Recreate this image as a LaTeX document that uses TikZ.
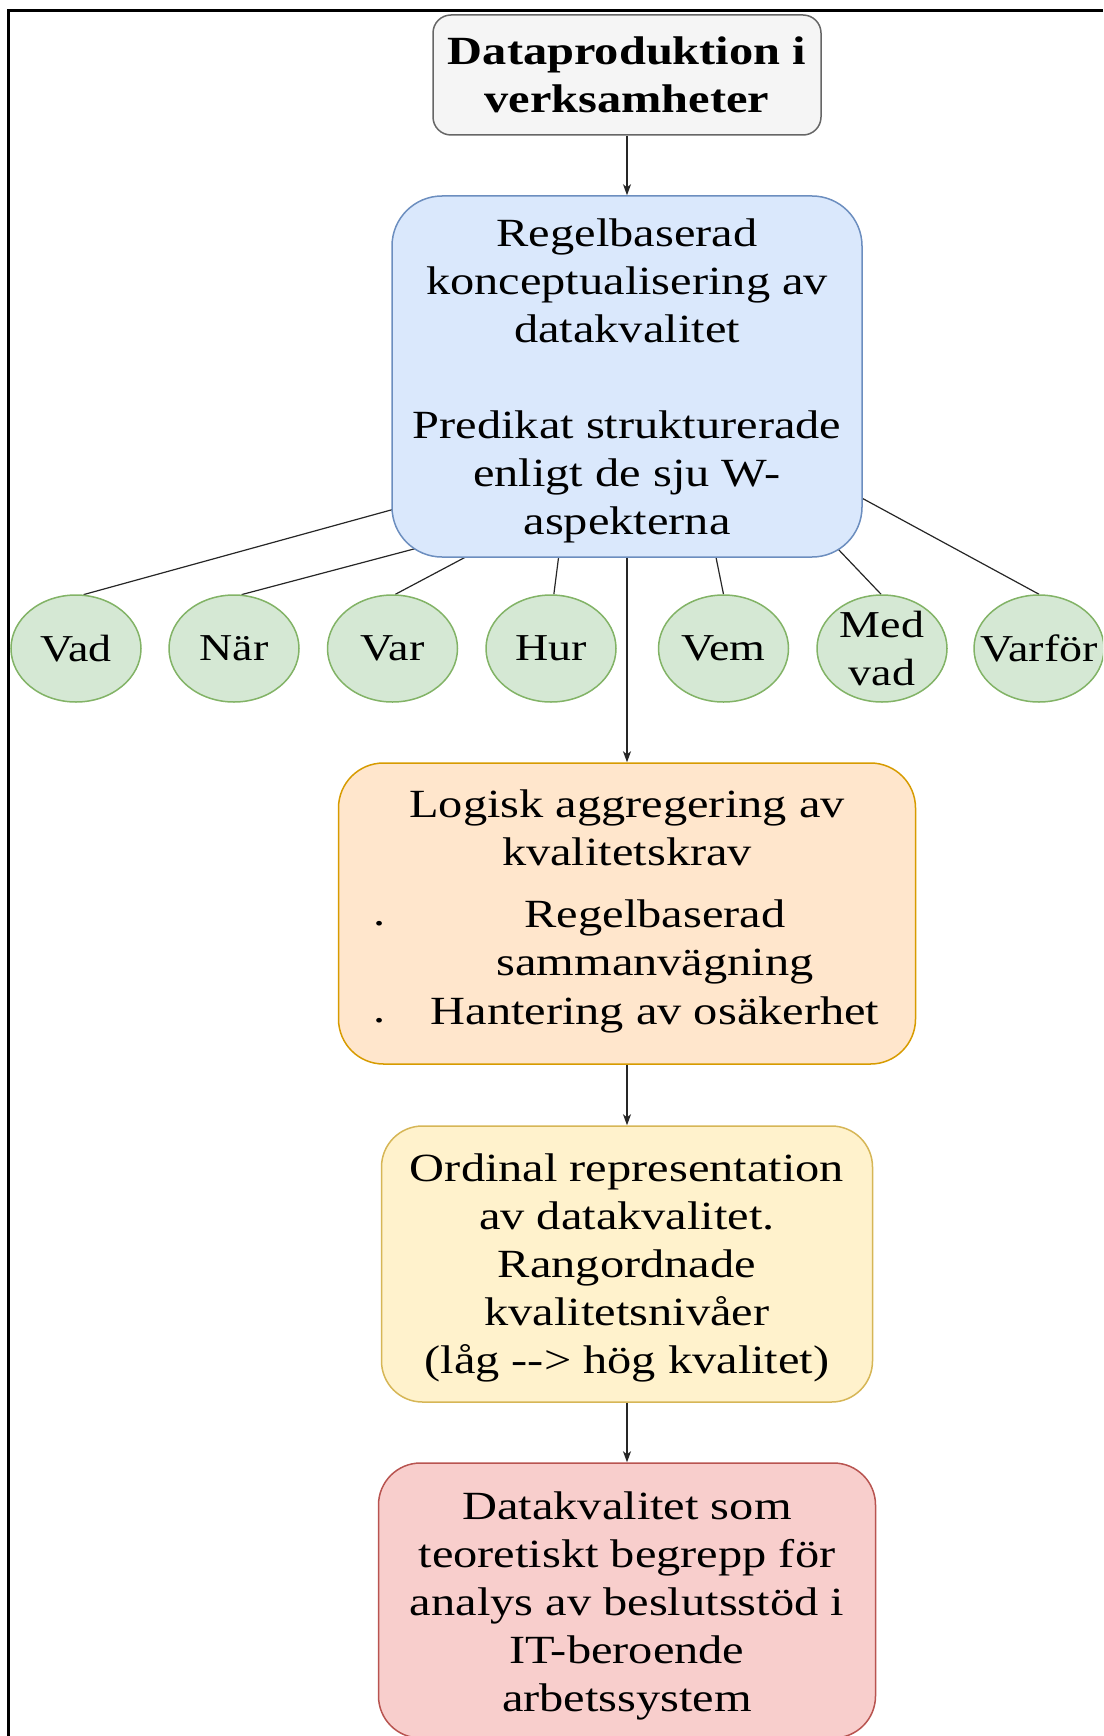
\documentclass[tikz,border=0pt]{standalone}
\usepackage{fontspec}
\setmainfont{Liberation Serif}[FakeStretch=1.21]
\usetikzlibrary{arrows.meta,backgrounds,shapes.geometric}
\definecolor{topF}{HTML}{F5F5F5}\definecolor{topD}{HTML}{666666}
\definecolor{bluF}{HTML}{DAE8FC}\definecolor{bluD}{HTML}{6C8EBF}
\definecolor{grnF}{HTML}{D5E8D4}\definecolor{grnD}{HTML}{82B366}
\definecolor{orgF}{HTML}{FFE6CC}\definecolor{orgD}{HTML}{D79B00}
\definecolor{ylwF}{HTML}{FFF2CC}\definecolor{ylwD}{HTML}{D6B656}
\definecolor{redF}{HTML}{F8CECC}\definecolor{redD}{HTML}{B85450}
\tikzset{
  txt/.style={align=center, font=\fontsize{40}{48}\selectfont, inner sep=0pt},
  ltxt/.style={txt, yshift=-4pt},
  box/.style={txt, rectangle, line width=1.5pt},
  wshape/.style={ellipse, draw=grnD, fill=grnF, line width=1.5pt, minimum width=130pt, minimum height=107pt, inner sep=0pt},
  wlab/.style={align=center, font=\fontsize{38}{48}\selectfont, inner sep=0pt},
  conn/.style={line width=1.2pt, draw=black!85},
  arr/.style={conn, -{Stealth[length=11pt,width=8pt,inset=3pt]}},
}
\begin{document}
\begin{tikzpicture}[x=1pt,y=-1pt]
\useasboundingbox (0,0) rectangle (1103,1736);
\clip (0,0) rectangle (1103,1736);
\draw[line width=2.6pt] (8.5,1736) -- (8.5,10.5) -- (1103,10.5);

\node[box, draw=topD, fill=topF, rounded corners=18pt, minimum width=388pt, minimum height=120pt, font=\fontsize{40}{48}\selectfont\bfseries] (src) at (627,75) {Dataproduktion i\\verksamheter};

\node[box, draw=bluD, fill=bluF, rounded corners=50pt, minimum width=470pt, minimum height=361pt,
  label={[ltxt]center:Regelbaserad\\konceptualisering av\\datakvalitet\\[48pt]Predikat strukturerade\\enligt de sju W-\\aspekterna}] (rule) at (627,376.5) {};

\node[wshape, label={[wlab]center:Vad}] (vad) at (76,648.5) {};
\node[wshape, label={[wlab]center:När}] (nar) at (234,648.5) {};
\node[wshape, label={[wlab]center:Var}] (var) at (392.5,648.5) {};
\node[wshape, label={[wlab]center:Hur}] (hur) at (551,648.5) {};
\node[wshape, label={[wlab]center:Vem}] (vem) at (723.5,648.5) {};
\node[wshape, label={[wlab]center:Med\\vad}] (med) at (882,648.5) {};
\node[wshape, label={[wlab]center:Varför}] (varfor) at (1039,648.5) {};

\coordinate (cVad) at (405.5,506);
\coordinate (cNar) at (436.5,543);
\coordinate (cVar) at (477,551);
\coordinate (cHur) at (559.5,550);
\coordinate (cVem) at (714.5,550);
\coordinate (cMed) at (825.6,536);
\coordinate (cVarfor) at (847,490);
\begin{pgfonlayer}{background}
\draw[conn] (vad.82) -- (cVad);
\draw[conn] (nar.82) -- (cNar);
\draw[conn] (var.87) -- (cVar);
\draw[conn] (hur.87) -- (cHur);
\draw[conn] (vem.90) -- (cVem);
\draw[conn] (med.91) -- (cMed);
\draw[conn] (varfor.90) -- (cVarfor);
\end{pgfonlayer}

\node[box, draw=orgD, fill=orgF, rounded corners=45pt, minimum width=577pt, minimum height=301pt] (agg) at (627,913.5) {};
\node[txt] (aggT) at (627,828) {Logisk aggregering av\\kvalitetskrav};
\node[txt] (agg1) at (655,942) {Regelbaserad\\sammanvägning};
\node[txt] (agg2) at (655,1015) {Hantering av osäkerhet};
\node[txt, anchor=base] (b1) at (380,925) {.};
\node[txt, anchor=base] (b2) at (380,1022) {.};

\node[box, draw=ylwD, fill=ylwF, rounded corners=41pt, minimum width=491pt, minimum height=276pt,
  label={[ltxt]center:Ordinal representation\\av datakvalitet.\\Rangordnade\\kvalitetsnivåer\\(låg -{}-{}> hög kvalitet)}] (ord) at (627,1264) {};

\node[box, draw=redD, fill=redF, rounded corners=42pt, minimum width=497pt, minimum height=275pt,
  label={[txt,yshift=-5pt]center:Datakvalitet som\\teoretiskt begrepp för\\analys av beslutsstöd i\\IT-beroende\\arbetssystem}] (dq) at (627,1600.5) {};

\draw[arr] (src) -- (rule);
\draw[arr] (rule) -- (agg);
\draw[arr] (agg) -- (ord);
\draw[arr] (ord) -- (dq);
\end{tikzpicture}
\end{document}
